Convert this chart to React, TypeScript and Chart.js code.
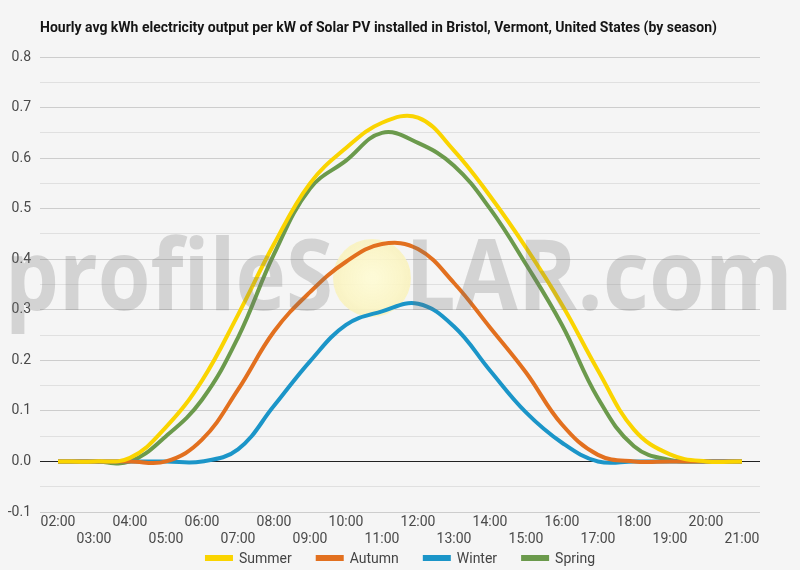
import React, { useEffect, useRef } from 'react';
import Chart from 'chart.js/auto';
import type { Plugin } from 'chart.js';

// hourly averages, 02:00 .. 21:00
const hours = [
    '02:00', '03:00', '04:00', '05:00', '06:00', '07:00', '08:00', '09:00', '10:00', '11:00',
    '12:00', '13:00', '14:00', '15:00', '16:00', '17:00', '18:00', '19:00', '20:00', '21:00',
];
const summer = [0, 0, 0.007, 0.068, 0.16, 0.29, 0.43, 0.55, 0.62, 0.67, 0.68, 0.615, 0.525, 0.423, 0.31, 0.18, 0.063, 0.014, 0, 0];
const autumn = [0, 0, 0, 0, 0.043, 0.142, 0.257, 0.335, 0.395, 0.43, 0.42, 0.353, 0.265, 0.176, 0.073, 0.013, 0, 0, 0, 0];
const winter = [0, 0, 0, 0, 0, 0.024, 0.11, 0.198, 0.27, 0.297, 0.312, 0.267, 0.18, 0.097, 0.037, 0, 0, 0, 0, 0];
const spring = [0, 0, 0, 0.05, 0.122, 0.245, 0.41, 0.54, 0.595, 0.65, 0.63, 0.585, 0.5, 0.39, 0.27, 0.125, 0.03, 0.003, 0, 0];

const TITLE = 'Hourly avg kWh electricity output per kW of Solar PV installed in Bristol, Vermont, United States (by season)';
const FONT = 'Roboto, "Noto Sans", sans-serif';

// sun behind the lines
const sunPlugin: Plugin<'line'> = {
    id: 'sun',
    beforeDatasetsDraw(chart) {
        const ctx = chart.ctx;
        ctx.save();
        const g = ctx.createRadialGradient(372, 278, 4, 372, 278, 39);
        g.addColorStop(0, 'rgba(253,250,212,0.95)');
        g.addColorStop(1, 'rgba(249,242,190,0.9)');
        ctx.fillStyle = g;
        ctx.beginPath();
        ctx.arc(372, 278, 39, 0, Math.PI * 2);
        ctx.fill();
        ctx.restore();
    },
};

// profileSOLAR.com watermark over the lines
const watermarkPlugin: Plugin<'line'> = {
    id: 'watermark',
    afterDatasetsDraw(chart) {
        const ctx = chart.ctx;
        ctx.save();
        ctx.font = 'bold 98px "Open Sans", sans-serif';
        ctx.fillStyle = 'rgba(110,110,110,0.25)';
        ctx.textBaseline = 'alphabetic';
        const parts: [string, number, number][] = [['profileS', 5, 333], ['LAR.com', 405, 793]];
        parts.forEach(([txt, x0, x1]) => {
            const w = ctx.measureText(txt).width;
            ctx.save();
            ctx.translate(x0, 310);
            ctx.scale((x1 - x0) / w, 1);
            ctx.fillText(txt, 0, 0);
            ctx.restore();
        });
        ctx.restore();
    },
};

// title + legend
const decorPlugin: Plugin<'line'> = {
    id: 'decor',
    afterDraw(chart) {
        const ctx = chart.ctx;
        ctx.save();
        ctx.font = `bold 14px ${FONT}`;
        ctx.fillStyle = '#151515';
        ctx.textBaseline = 'middle';
        ctx.textAlign = 'left';
        ctx.fillText(TITLE, 40, 28);

        ctx.font = `14px ${FONT}`;
        const boxW = 28, boxH = 6, gap = 6, spacing = 24;
        const items = chart.data.datasets.map(ds => ({
            label: ds.label as string,
            color: ds.borderColor as string,
            w: boxW + gap + ctx.measureText(ds.label as string).width,
        }));
        const total = items.reduce((s, it) => s + it.w, 0) + spacing * (items.length - 1);
        let x = chart.width / 2 - total / 2;
        const y = 558;
        items.forEach(it => {
            ctx.fillStyle = it.color;
            ctx.fillRect(x, y - boxH / 2, boxW, boxH);
            ctx.fillStyle = '#444';
            ctx.fillText(it.label, x + boxW + gap, y + 1);
            x += it.w + spacing;
        });
        ctx.restore();
    },
};

export default function App() {
    const canvasRef = useRef<HTMLCanvasElement | null>(null);

    useEffect(() => {
        document.body.style.margin = '0';
        document.body.style.background = '#f5f5f5';
        const canvas = canvasRef.current;
        if (!canvas) return;
        Chart.getChart(canvas)?.destroy();

        const line = (label: string, data: number[], color: string) => ({
            label,
            data,
            borderColor: color,
            backgroundColor: color,
            borderWidth: 4,
            pointRadius: 0,
            tension: 0.4,
            fill: false,
        });

        const chart = new Chart(canvas, {
            type: 'line',
            data: {
                labels: hours,
                datasets: [
                    line('Summer', summer, '#fad400'),
                    line('Autumn', autumn, '#e2701f'),
                    line('Winter', winter, '#1b95c8'),
                    line('Spring', spring, '#6b9a4c'),
                ],
            },
            options: {
                responsive: false,
                animation: false,
                devicePixelRatio: 1,
                layout: { padding: { top: 57, right: 40, bottom: 22, left: 0 } },
                font: { family: FONT },
                plugins: {
                    legend: { display: false },
                    title: { display: false },
                    tooltip: { enabled: false },
                },
                scales: {
                    x: {
                        offset: true,
                        grid: { display: false, drawTicks: false },
                        border: { display: false },
                        afterFit: (s: any) => { s.height = 36; },
                        ticks: {
                            autoSkip: false,
                            maxRotation: 0,
                            padding: 2,
                            color: '#4a4a4a',
                            font: { family: FONT, size: 14 },
                            callback: (_v: any, i: number) => (i % 2 === 0 ? [hours[i], ''] : ['', hours[i]]),
                        },
                    },
                    y: {
                        min: -0.1,
                        max: 0.8,
                        border: { display: false },
                        afterFit: (s: any) => { s.width = 40; },
                        grid: {
                            drawTicks: false,
                            lineWidth: 1,
                            color: (c: any) => {
                                const v = Math.round(c.tick.value * 100);
                                if (v === 0) return '#222';
                                return v % 10 === 0 ? '#cdcdcd' : '#e0e0e0';
                            },
                        },
                        ticks: {
                            stepSize: 0.05,
                            padding: 9,
                            color: '#4a4a4a',
                            font: { family: FONT, size: 14 },
                            callback: (v: any) => {
                                const n = Math.round(Number(v) * 100);
                                return n % 10 === 0 ? (n / 100).toFixed(1) : '';
                            },
                        },
                    },
                },
            },
            plugins: [sunPlugin, watermarkPlugin, decorPlugin],
        });

        return () => chart.destroy();
    }, []);

    return (
        <div style={{ width: 800, height: 570, background: '#f5f5f5' }}>
            <canvas ref={canvasRef} width={800} height={570} />
        </div>
    );
}
